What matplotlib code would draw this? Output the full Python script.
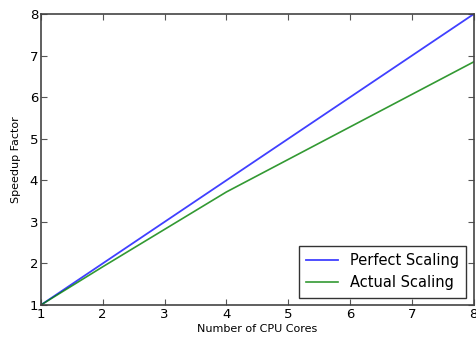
import matplotlib
matplotlib.use("Agg")
import matplotlib.pyplot as plt

cores = [1, 2, 3, 4, 5, 6, 7, 8]
perfect = [1, 2, 3, 4, 5, 6, 7, 8]
actual_cores = [1, 2, 4, 8]
actual = [1, 1.92, 3.72, 6.85]

plt.rcParams["font.family"] = "DejaVu Sans"
fig = plt.figure(figsize=(4.76, 3.37), dpi=100)
ax = fig.add_axes([0.086, 0.095, 0.909, 0.863])

ax.plot(cores, perfect, color="#0000ff", lw=1.3, label="Perfect Scaling", alpha=0.75)
ax.plot(actual_cores, actual, color="#008000", lw=1.2, label="Actual Scaling", alpha=0.8)

ax.set_xlim(1, 8)
ax.set_ylim(1, 8)
ax.set_xticks(range(1, 9))
ax.set_yticks(range(1, 9))
ax.tick_params(direction="in", length=4, width=0.8, labelsize=9.5, top=True, right=True,
               color="#555555", pad=2)
for s in ax.spines.values():
    s.set_linewidth(1.2)
    s.set_color("#444444")

ax.set_xlabel("Number of CPU Cores", fontsize=8, labelpad=2)
ax.set_ylabel("Speedup Factor", fontsize=8, labelpad=6)

leg = ax.legend(loc="lower right", fontsize=10.5, fancybox=False, framealpha=1,
                edgecolor="#333333", handlelength=2.2, borderpad=0.5, labelspacing=0.5)
leg.get_frame().set_linewidth(1.0)

fig.savefig("out.png", dpi=100)
